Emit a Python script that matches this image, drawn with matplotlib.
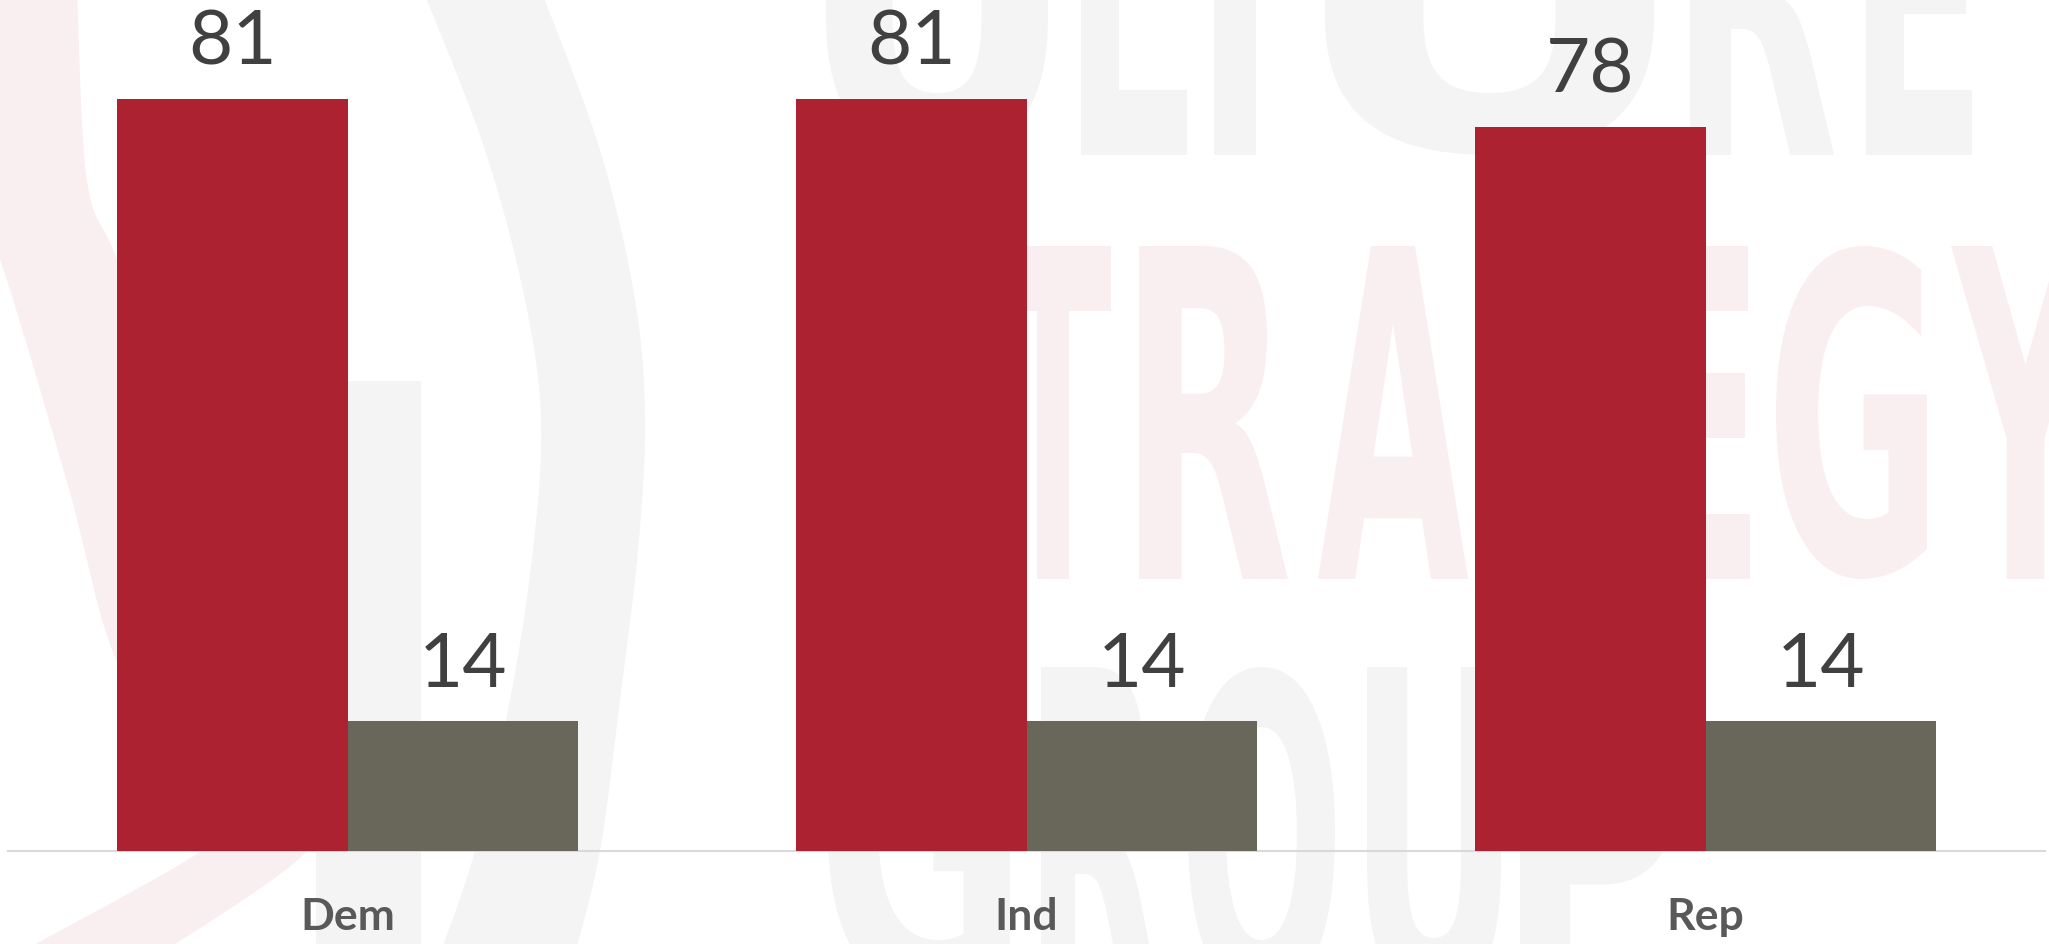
import numpy as np
import matplotlib
matplotlib.use("Agg")
import matplotlib.pyplot as plt
from matplotlib.textpath import TextPath
from matplotlib.font_manager import FontProperties
from matplotlib.patches import PathPatch, Polygon, Rectangle
from matplotlib.transforms import Affine2D

# ---- data ----
categories = ["Dem", "Ind", "Rep"]
series_a = [81, 81, 78]
series_b = [14, 14, 14]

RED = "#ac2230"
GRAY = "#69665a"
LABEL_DARK = "#404040"
CAT_COLOR = "#595959"
WM_GRAY = "#f4f4f4"
WM_PINK = "#f9eff0"

W, H = 2049, 944
fig = plt.figure(figsize=(W / 100, H / 100), dpi=100)
fig.patch.set_facecolor("white")

# ---- faint logo watermark behind the chart (pixel coordinates) ----
bg = fig.add_axes([0, 0, 1, 1], zorder=0)
bg.set_xlim(0, W)
bg.set_ylim(H, 0)
bg.axis("off")


def spline(pts, n=24):
    """Catmull-Rom curve through a list of points."""
    pts = np.asarray(pts, float)
    p = np.vstack([pts[0], pts, pts[-1]])
    out = []
    t = np.linspace(0, 1, n, endpoint=False)[:, None]
    for i in range(1, len(p) - 2):
        p0, p1, p2, p3 = p[i - 1], p[i], p[i + 1], p[i + 2]
        out.append(0.5 * ((2 * p1) + (-p0 + p2) * t
                          + (2 * p0 - 5 * p1 + 4 * p2 - p3) * t ** 2
                          + (-p0 + 3 * p1 - 3 * p2 + p3) * t ** 3))
    out.append(p[-2][None])
    return np.vstack(out)


def band(edge1, edge2, color):
    poly = np.vstack([spline(edge1), spline(edge2)[::-1]])
    bg.add_patch(Polygon(poly, closed=True, fc=color, ec="none"))


# swoosh of the logo mark
band([(77, -10), (87, 181), (117, 259), (190, 450), (260, 650), (310, 790), (306, 852), (160, 954)],
     [(-80, -10), (-60, 100), (0, 259), (67, 482), (117, 662), (190, 760), (215, 820), (200, 852), (17, 954)],
     WM_PINK)
# large arc of the logo mark
band([(541, -10), (600, 150), (635, 300), (645, 420), (638, 550), (620, 700), (600, 851), (575, 954)],
     [(423, -10), (485, 150), (525, 300), (541, 420), (533, 550), (510, 700), (475, 851), (440, 954)],
     WM_GRAY)
bg.add_patch(Rectangle((316, 381), 105, 600, fc=WM_GRAY, ec="none"))

wm_font = FontProperties(family="DejaVu Sans", weight="bold")


def glyph(ch, x0, x1, ytop, ybot, color):
    tp = TextPath((0, 0), ch, size=100, prop=wm_font)
    ext = tp.get_extents()
    tr = (Affine2D().translate(-ext.x0, -ext.y0)
          .scale((x1 - x0) / ext.width, -(ybot - ytop) / ext.height)
          .translate(x0, ybot))
    bg.add_patch(PathPatch(tr.transform_path(tp), fc=color, ec="none"))


wm_rows = [
    ("ULTURE", [(826, 1048), (1081, 1187), (1160, 1310), (1325, 1654), (1690, 1834), (1866, 1972)],
     -178, 155, WM_GRAY),
    ("STRATEGY", [(830, 980), (995, 1111), (1139, 1288), (1318, 1468), (1490, 1640), (1660, 1750),
                  (1776, 1927), (1951, 2100)], 246, 579, WM_PINK),
    ("GROUP", [(828, 1010), (1041, 1160), (1188, 1335), (1367, 1501), (1520, 1680)], 667, 1000, WM_GRAY),
]
for word, boxes, ytop, ybot, col in wm_rows:
    for ch, (x0, x1) in zip(word, boxes):
        glyph(ch, x0, x1, ytop, ybot, col)

# ---- bar chart ----
ax = fig.add_axes([8 / W, (H - 851) / H, (2045 - 8) / W, 851 / H], zorder=1)
ax.patch.set_alpha(0)

x = np.arange(len(categories))
w = 0.339
bars_a = ax.bar(x - w / 2, series_a, w, color=RED, zorder=3)
bars_b = ax.bar(x + w / 2, series_b, w, color=GRAY, zorder=3)

ax.set_xlim(-0.5, len(categories) - 0.5)
ax.set_ylim(0, 91.66)

for s in ("top", "left", "right"):
    ax.spines[s].set_visible(False)
ax.spines["bottom"].set_color("#d9d9d9")
ax.spines["bottom"].set_linewidth(1.5)
ax.spines["bottom"].set_zorder(2)
ax.set_yticks([])

ax.set_xticks(x, categories)
ax.tick_params(axis="x", length=0, pad=56.9, labelsize=32, labelcolor=CAT_COLOR)
for lbl in ax.get_xticklabels():
    lbl.set_fontfamily("Lato")
    lbl.set_fontweight("bold")
    lbl.set_verticalalignment("baseline")

for bars, vals in ((bars_a, series_a), (bars_b, series_b)):
    for rect, v in zip(bars, vals):
        ax.annotate(f"{v}", (rect.get_x() + rect.get_width() / 2, v),
                    xytext=(0, 34), textcoords="offset pixels",
                    ha="center", va="baseline", fontsize=55,
                    family="Lato", color=LABEL_DARK)

fig.savefig("out.png", dpi=100, facecolor="white")
